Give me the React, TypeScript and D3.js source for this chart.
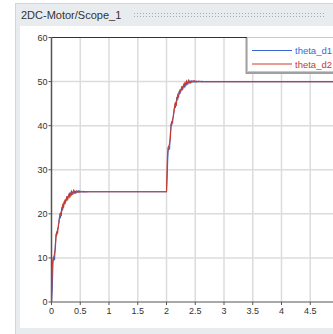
import * as d3 from "d3";

// time samples (s)
const time1 = [0, 0.013, 0.026, 0.04, 0.053, 0.066, 0.08, 0.09, 0.105, 0.12, 0.13, 0.145, 0.155, 0.17, 0.18, 0.195, 0.21, 0.22, 0.235, 0.245, 0.26, 0.27, 0.285, 0.3, 0.31, 0.325, 0.34, 0.35, 0.365, 0.38, 0.39, 0.415, 0.44, 0.47, 0.49, 0.52, 0.56, 0.6, 0.65, 0.7, 0.75, 0.8];
const time2 = [2.0, 2.013, 2.026, 2.04, 2.053, 2.066, 2.08, 2.09, 2.105, 2.12, 2.13, 2.145, 2.155, 2.17, 2.18, 2.195, 2.21, 2.22, 2.235, 2.245, 2.26, 2.27, 2.285, 2.3, 2.31, 2.325, 2.34, 2.35, 2.365, 2.38, 2.39, 2.415, 2.44, 2.47, 2.49, 2.52, 2.56, 2.6, 2.65, 2.7, 2.75, 2.8, 5.0];

const thetaD1a = [0, 3, 9, 10, 9.5, 13, 15.5, 15, 16.5, 17, 18.5, 19.5, 19, 20.5, 21.5, 21, 22, 22.8, 22.2, 23, 23.6, 23, 23.8, 24.3, 23.8, 24.4, 24.9, 24.3, 24.7, 25.2, 24.6, 25.1, 24.8, 25.2, 24.9, 25.1, 24.9, 25.05, 25, 25, 25, 25];
const thetaD2a = [0, 8, 10, 10.2, 11, 12, 15, 16, 15.5, 17.5, 18, 20, 20.2, 19.5, 21, 22, 21.4, 22.5, 23.2, 22.6, 23.3, 24, 23.4, 24.2, 24.6, 24, 24.7, 25.1, 24.5, 24.9, 25.3, 24.7, 25.2, 24.9, 25.2, 24.9, 25.1, 24.95, 25, 25, 25, 25];
const thetaD1b = [25, 29, 34, 35, 34.6, 38, 40.5, 40, 41.5, 42, 43.5, 44.5, 44, 45.5, 46.5, 46, 47, 47.8, 47.2, 48, 48.6, 48, 48.8, 49.3, 48.8, 49.4, 49.9, 49.3, 49.7, 50.2, 49.6, 50.1, 49.8, 50.2, 49.9, 50.1, 49.9, 50.05, 50, 50, 50, 50, 50];
const thetaD2b = [25, 32, 35, 35.3, 36, 37, 40, 41, 40.5, 42.5, 43, 45, 45.2, 44.5, 46, 47, 46.4, 47.5, 48.2, 47.6, 48.3, 49, 48.4, 49.2, 49.6, 49, 49.7, 50.1, 49.5, 49.9, 50.3, 49.7, 50.2, 49.9, 50.2, 49.9, 50.1, 49.95, 50, 50, 50, 50, 50];

const xTicks = [0, 0.5, 1, 1.5, 2, 2.5, 3, 3.5, 4, 4.5];
const yTicks = [0, 10, 20, 30, 40, 50, 60];
const seriesNames = ["theta_d1", "theta_d2"];
const seriesColors = ["#3a66d8", "#cc3a2a"];

const W = 333;
const H = 334;
const font = "'Liberation Sans', Arial, sans-serif";

const x = d3.scaleLinear().domain([0, 5]).range([51.5, 339]);
const y = d3.scaleLinear().domain([0, 60]).range([302, 37.5]);

const join = (t: number[], v: number[]) => t.map((tt, i) => [tt, v[i]] as [number, number]);
const d1 = [...join(time1, thetaD1a), ...join(time2, thetaD1b)];
const d2 = [...join(time1, thetaD2a), ...join(time2, thetaD2b)];

const line = d3.line<[number, number]>().x(d => x(d[0])).y(d => y(d[1]));

export default function App() {
  const dotsX = d3.range(134, 324, 3);
  return (
    <svg width={W} height={H} style={{ position: "absolute", left: 0, top: 0 }}>
      {/* panel */}
      <rect x={15.5} y={3.5} width={330} height={340} fill="#e8ecef" stroke="#d0d5da" />
      <rect x={20} y={26} width={320} height={302} fill="#fff" />
      <text x={21} y={19} fontFamily={font} fontSize={11} fill="#333">2DC-Motor/Scope_1</text>
      {dotsX.map(dx => (
        <g key={dx}>
          <rect x={dx} y={13} width={1} height={1} fill="#a5abb0" />
          <rect x={dx} y={16} width={1} height={1} fill="#a5abb0" />
        </g>
      ))}

      {/* grid */}
      {xTicks.slice(1).map(t => (
        <line key={"gx" + t} x1={x(t)} x2={x(t)} y1={y(60)} y2={y(0)} stroke="#dcdcdc" strokeWidth={1.5} />
      ))}
      {yTicks.slice(1, -1).map(t => (
        <line key={"gy" + t} x1={x(0)} x2={W} y1={y(t)} y2={y(t)} stroke="#dcdcdc" strokeWidth={1.5} />
      ))}

      {/* frame */}
      <line x1={x(0)} x2={W} y1={y(60)} y2={y(60)} stroke="#333" strokeWidth={1.2} />
      <line x1={x(0)} x2={W} y1={y(0)} y2={y(0)} stroke="#555" strokeWidth={1.2} />
      <line x1={x(0)} x2={x(0)} y1={y(60)} y2={y(0)} stroke="#555" strokeWidth={1.5} />

      {/* ticks */}
      {yTicks.map(t => (
        <g key={"ty" + t}>
          <line x1={x(0) - 3} x2={x(0)} y1={y(t)} y2={y(t)} stroke="#555" />
          <text x={x(0) - 4} y={y(t) + 3} textAnchor="end" fontFamily={font} fontSize={9} fill="#333">{t}</text>
        </g>
      ))}
      {xTicks.map(t => (
        <g key={"tx" + t}>
          <line x1={x(t)} x2={x(t)} y1={y(0)} y2={y(0) + 3} stroke="#555" />
          <text x={x(t)} y={y(0) + 12} textAnchor="middle" fontFamily={font} fontSize={9} fill="#333">{t}</text>
        </g>
      ))}

      {/* series */}
      <path d={line(d1) ?? ""} fill="none" stroke={seriesColors[0]} strokeWidth={1.1} />
      <path d={line(d2) ?? ""} fill="none" stroke={seriesColors[1]} strokeWidth={1.1} />

      {/* legend */}
      <rect x={245.5} y={38} width={92} height={36} fill="#a0a0a0" />
      <rect x={247.5} y={37.5} width={90} height={34} fill="#fff" stroke="#c8c8c8" />
      {seriesNames.map((n, i) => (
        <g key={n}>
          <line x1={252} x2={292} y1={50.5 + i * 13.5} y2={50.5 + i * 13.5} stroke={seriesColors[i]} />
          <text x={295} y={54 + i * 13.5} fontFamily={font} fontSize={9.5} fill={seriesColors[i]}>{n}</text>
        </g>
      ))}
    </svg>
  );
}
